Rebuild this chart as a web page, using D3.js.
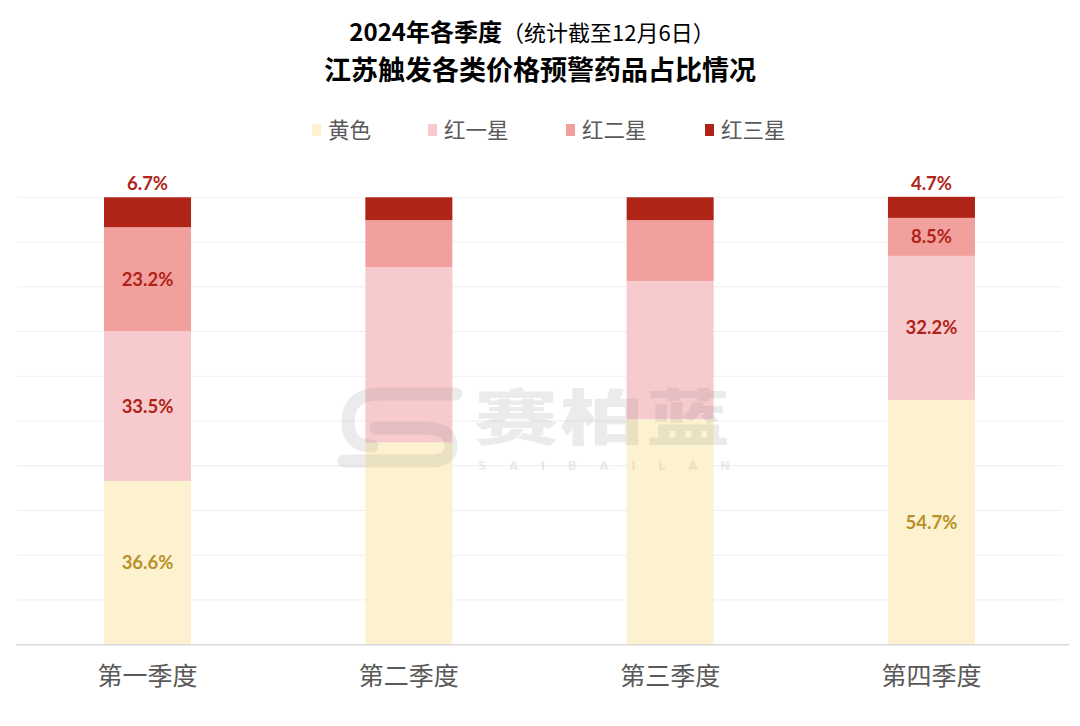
<!DOCTYPE html>
<html><head><meta charset="utf-8">
<script src="https://cdn.jsdelivr.net/npm/d3@7"></script>
<style>body{margin:0;background:#fff;}svg{display:block;}</style>
</head><body>
<svg id="c" width="1080" height="726"></svg>
<script>
const categories = ["第一季度","第二季度","第三季度","第四季度"];
const seriesNames = ["黄色","红一星","红二星","红三星"];
const yellow = [36.6, 45.2, 50.4, 54.7];
const red1   = [33.5, 39.2, 30.9, 32.2];
const red2   = [23.2, 10.5, 13.6, 8.5];
const red3   = [6.7, 5.1, 5.1, 4.7];
const showLabel = [true, false, false, true];
const yTicks = [0,10,20,30,40,50,60,70,80,90,100];
const colors = ["#FDF2CF","#F7CBCD","#F2A09E","#B02418"];
const labelColors = ["#B8912A","#B02418","#B02418","#B02418"];

(function(){
const seriesVals = [yellow, red1, red2, red3];
const rows = categories.map((c,i)=>{const o={cat:c,i:i}; seriesNames.forEach((s,k)=>o[s]=seriesVals[k][i]); return o;});
const stack = d3.stack().keys(seriesNames)(rows);

const svg = d3.select("#c");
const pL=17, pR=1062, pT=197.3, pB=644.7;
const x = d3.scaleBand().domain(categories).range([pL,pR]).paddingInner(0.667).paddingOuter(0.333);
const y = d3.scaleLinear().domain([0,100]).range([pB,pT]);

// gridlines
svg.append("g").selectAll("line").data(yTicks.slice(1)).join("line")
  .attr("x1",pL).attr("x2",pR).attr("y1",d=>y(d)).attr("y2",d=>y(d))
  .attr("stroke","#efefef").attr("stroke-width",1);

// bars
const g = svg.append("g");
stack.forEach((layer,k)=>{
  g.append("g").selectAll("rect").data(layer).join("rect")
    .attr("x",d=>x(d.data.cat)).attr("width",x.bandwidth())
    .attr("y",d=>y(d[1])).attr("height",d=>y(d[0])-y(d[1]))
    .attr("fill",colors[k]);
});

// watermark (overlay)
const wm = svg.append("g").attr("opacity",0.13).attr("fill","#6f6f6f");
wm.append("text").attr("transform","translate(603,440) scale(1,0.714)").attr("text-anchor","middle")
  .attr("font-family","Noto Sans CJK SC").attr("font-weight",900).attr("font-size",84).attr("letter-spacing",2).text("赛柏蓝");
wm.append("text").attr("x",604).attr("y",470).attr("text-anchor","middle").attr("textLength",252)
  .attr("font-family","DejaVu Sans").attr("font-weight",700).attr("font-size",12).text("SAIBAILAN");
wm.append("path").attr("d","M456,394 H380 Q348,394 348,422 Q348,446 372,446 M376,428 H424 Q451,428 451,446 Q451,461 430,461 H344")
  .attr("fill","none").attr("stroke","#6f6f6f").attr("stroke-width",13).attr("stroke-linecap","round");

// axis
const ax = svg.append("g").attr("transform",`translate(0,${pB})`).call(d3.axisBottom(x).tickSize(0).tickPadding(23));
ax.select(".domain").attr("stroke","#d9d9d9").attr("stroke-width",1.5).attr("d",`M${pL-1},0H${pR+7}`);
ax.selectAll("text").attr("font-family","Noto Sans CJK SC").attr("font-size",25).attr("fill","#595959");

// labels
stack.forEach((layer,k)=>{
  layer.forEach(d=>{
    if(!showLabel[d.data.i]) return;
    const cx = x(d.data.cat)+x.bandwidth()/2;
    const v = d[1]-d[0];
    let cy = k===3 ? y(d[1])-7 : (y(d[0])+y(d[1]))/2+6.5;
    svg.append("text").attr("x",cx).attr("y",cy).attr("text-anchor","middle")
      .attr("font-family","Lato").attr("font-weight",700).attr("font-size",18.5)
      .attr("fill",labelColors[k]).text(v.toFixed(1)+"%");
  });
});

// legend
const legX = [312, 428, 566, 705];
const leg = svg.append("g");
seriesNames.forEach((s,k)=>{
  leg.append("rect").attr("x",legX[k]).attr("y",124).attr("width",9).attr("height",12).attr("fill",colors[k]);
  leg.append("text").attr("x",legX[k]+16).attr("y",138).attr("font-family","Noto Sans CJK SC")
    .attr("font-size",21.5).attr("fill","#595959").text(s);
});

// titles
const t1 = svg.append("text").attr("x",532).attr("y",41).attr("text-anchor","middle").attr("font-family","Noto Sans CJK SC");
t1.append("tspan").attr("font-weight",700).attr("font-size",24).attr("fill","#000").text("2024年各季度");
t1.append("tspan").attr("font-weight",400).attr("font-size",22).attr("fill","#000").text("（统计截至12月6日）");
svg.append("text").attr("x",540).attr("y",80).attr("text-anchor","middle").attr("font-family","Noto Sans CJK SC")
  .attr("font-weight",700).attr("font-size",27).attr("fill","#000").text("江苏触发各类价格预警药品占比情况");
})();
</script>
</body></html>
